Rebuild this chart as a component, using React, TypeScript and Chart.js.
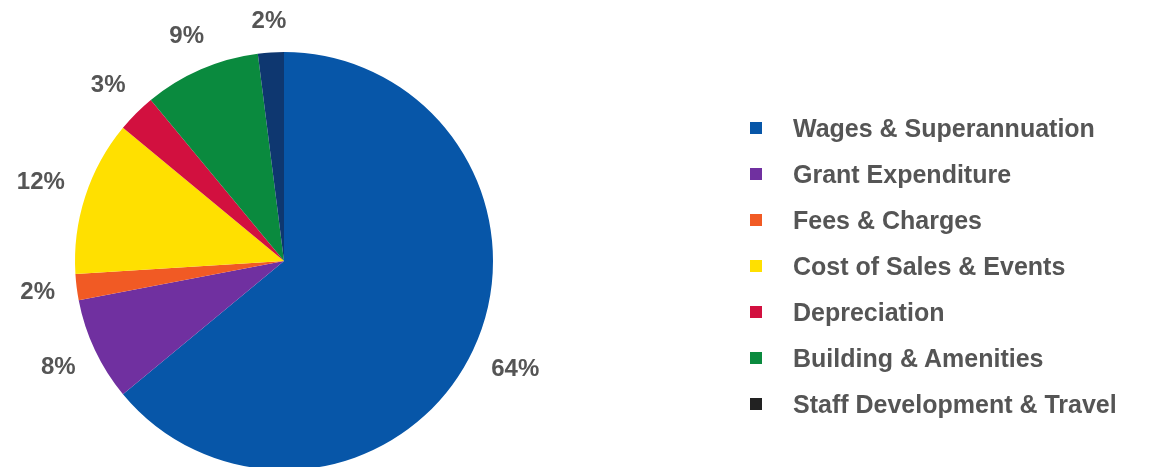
import React, { useEffect, useRef } from "react";
import { Chart, registerables } from "chart.js";

Chart.register(...registerables);

const categories = [
  "Wages & Superannuation",
  "Grant Expenditure",
  "Fees & Charges",
  "Cost of Sales & Events",
  "Depreciation",
  "Building & Amenities",
  "Staff Development & Travel",
];
const values = [64, 8, 2, 12, 3, 9, 2];
const sliceColors = ["#0756A8", "#7030A0", "#F15A24", "#FFE000", "#D2103F", "#0A8A3E", "#0E3770"];
const legendColors = ["#0756A8", "#7030A0", "#F15A24", "#FFE000", "#D2103F", "#0A8A3E", "#222222"];

const FONT = '"Liberation Sans", Arial, sans-serif';

const labelPlugin = {
  id: "pctLabels",
  afterDatasetsDraw(chart: any) {
    const ctx = chart.ctx;
    const meta = chart.getDatasetMeta(0);
    ctx.save();
    ctx.fillStyle = "#555555";
    ctx.font = `bold 24px ${FONT}`;
    ctx.textAlign = "center";
    ctx.textBaseline = "middle";
    meta.data.forEach((arc: any, i: number) => {
      const text = values[i] + "%";
      const halfW = ctx.measureText(text).width / 2;
      const halfH = 9;
      const mid = (arc.startAngle + arc.endAngle) / 2;
      const c = Math.cos(mid);
      const s = Math.sin(mid);
      const r = arc.outerRadius + 21 + Math.abs(c) * halfW + Math.abs(s) * halfH;
      ctx.fillText(text, arc.x + c * r, arc.y + s * r);
    });
    ctx.restore();
  },
};

export default function App() {
  const ref = useRef<HTMLCanvasElement>(null);
  useEffect(() => {
    document.body.style.margin = "0";
    const chart = new Chart(ref.current!, {
      type: "pie",
      data: {
        labels: categories,
        datasets: [
          {
            data: values,
            backgroundColor: sliceColors,
            borderWidth: 0,
          },
        ],
      },
      options: {
        responsive: false,
        animation: false,
        layout: { padding: { left: 75, right: 657, top: 52, bottom: 10 } },
        plugins: { legend: { display: false }, tooltip: { enabled: false } },
      },
      plugins: [labelPlugin],
    });
    return () => chart.destroy();
  }, []);

  return (
    <div style={{ position: "relative", width: 1150, height: 467, overflow: "hidden", background: "#fff" }}>
      <canvas ref={ref} width={1150} height={480} style={{ position: "absolute", left: 0, top: 0 }} />
      <div style={{ position: "absolute", left: 750, top: 105 }}>
        {categories.map((c, i) => (
          <div key={c} style={{ display: "flex", alignItems: "center", height: 46 }}>
            <div style={{ width: 12, height: 12, background: legendColors[i], marginRight: 31 }} />
            <span style={{ font: `bold 25px ${FONT}`, color: "#555555", whiteSpace: "nowrap" }}>{c}</span>
          </div>
        ))}
      </div>
    </div>
  );
}
